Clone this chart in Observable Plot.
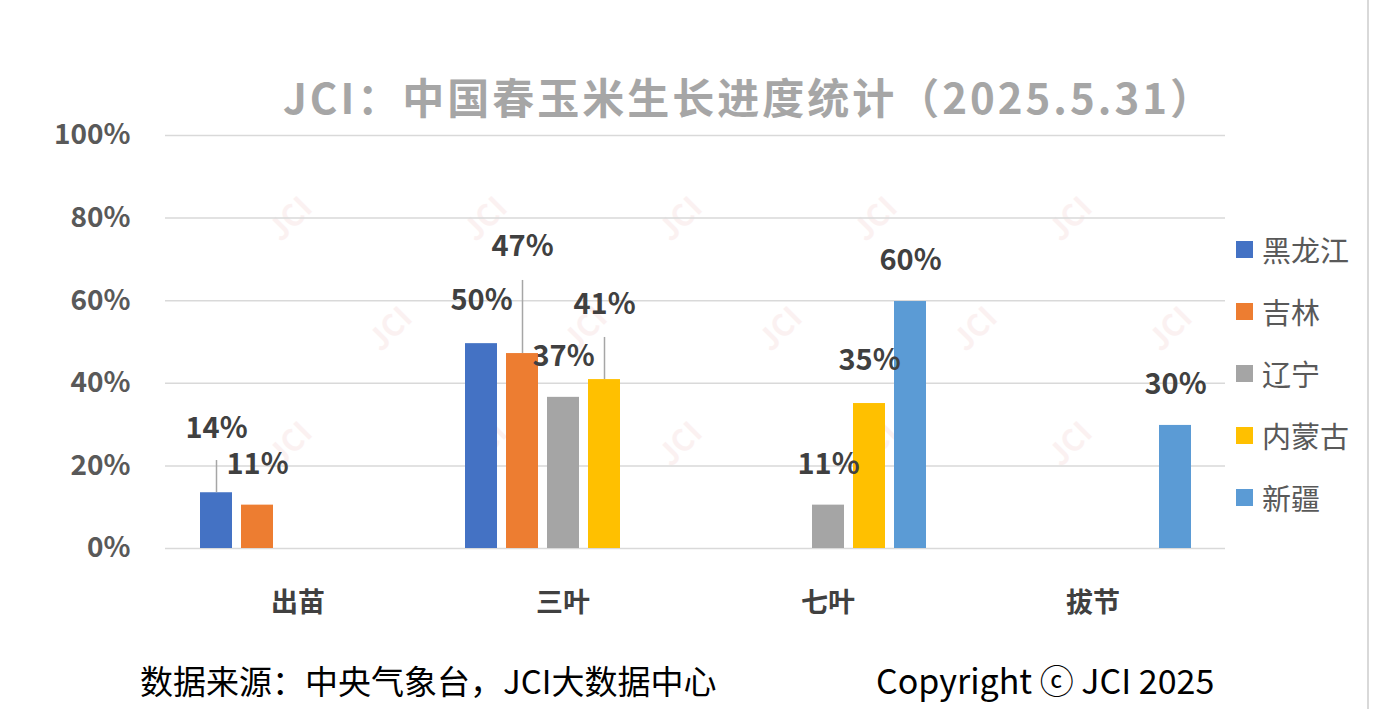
<!DOCTYPE html>
<html>
<head>
<meta charset="utf-8">
<script src="https://cdn.jsdelivr.net/npm/d3@7"></script>
<script src="https://cdn.jsdelivr.net/npm/@observablehq/plot@0.6"></script>
<style>
  body { margin: 0; background: #fff; }
  #wrap { position: relative; width: 1373px; height: 709px; overflow: hidden; font-family: "Noto Sans CJK SC", "Noto Sans", sans-serif; }
  #chart { position: absolute; left: 0; top: 0; }
  #title { position: absolute; left: 12px; width: 1474px; top: 68px; text-align: center; font-size: 42px; letter-spacing: 3px; font-weight: bold; color: #a6a6a6; line-height: 56px; white-space: nowrap; }
  #legend { position: absolute; left: 1236px; top: 0; }
  .lg { position: absolute; left: 0; display: flex; align-items: center; white-space: nowrap; font-size: 29px; color: #595959; }
  .sw { width: 17px; height: 17px; margin-right: 9px; }
  .foot { position: absolute; top: 656px; color: #000; white-space: nowrap; line-height: 48px; }
  #border { position: absolute; left: 1367px; top: 0; width: 2px; height: 709px; background: #d9d9d9; }
  .wm { position: absolute; font-size: 30px; font-weight: bold; color: #f6dede; transform: rotate(-45deg); opacity: 0.4; white-space: nowrap; }
</style>
</head>
<body>
<div id="wrap">
  <div id="chart"></div>
  <div id="title"></div>
  <div id="legend"></div>
  <div class="foot" id="src" style="left:140px; font-size:33px"></div>
  <div class="foot" id="copy" style="left:876px; font-size:34px"></div>
  <div id="border"></div>
</div>
<script>
// ---- data ----
const title = "JCI：中国春玉米生长进度统计（2025.5.31）";
const categories = ["出苗", "三叶", "七叶", "拔节"];
const series = ["黑龙江", "吉林", "辽宁", "内蒙古", "新疆"];
const colors = ["#4472C4", "#ED7D31", "#A5A5A5", "#FFC000", "#5B9BD5"];
const values = {
  "黑龙江": [13.5, 49.6, null, null],
  "吉林":   [10.5, 47.2, null, null],
  "辽宁":   [null, 36.6, 10.5, null],
  "内蒙古": [null, 40.9, 35.1, null],
  "新疆":   [null, null, 59.8, 29.8]
};
const yTicks = [0, 20, 40, 60, 80, 100];
const sourceText = "数据来源：中央气象台，JCI大数据中心";
const copyrightText = "Copyright ⓒ JCI 2025";

// ---- label placement (annotation layout, in axis units) ----
const labelAt = {
  "出苗|黑龙江": 29.1, "出苗|吉林": 20.3,
  "三叶|黑龙江": 60.0, "三叶|吉林": 73.1, "三叶|辽宁": 46.5, "三叶|内蒙古": 59.1,
  "七叶|辽宁": 20.3, "七叶|内蒙古": 45.5, "七叶|新疆": 69.7,
  "拔节|新疆": 39.7
};
const leaderTo = { "出苗|黑龙江": 21.3, "三叶|吉林": 64.9, "三叶|内蒙古": 51.1 };

const rows = [];
series.forEach(s => values[s].forEach((v, i) => {
  if (v != null) {
    const key = categories[i] + "|" + s;
    rows.push({ cat: categories[i], series: s, value: v, labelY: labelAt[key], leader: leaderTo[key] });
  }
}));
const leaders = rows.filter(d => d.leader != null);

const chart = Plot.plot({
  width: 1373, height: 709,
  marginLeft: 165, marginRight: 148, marginTop: 135, marginBottom: 161,
  style: { fontFamily: '"Noto Sans CJK SC", "Noto Sans", sans-serif', background: "transparent", overflow: "visible" },
  fx: { domain: categories, padding: 0, label: null },
  x: { domain: series, paddingInner: 0.22, paddingOuter: 0.84, axis: null },
  y: { domain: [0, 100], label: null },
  color: { domain: series, range: colors },
  marks: [
    Plot.gridY(yTicks, { stroke: "#d9d9d9", strokeOpacity: 1, strokeWidth: 1.5 }),
    Plot.axisY(yTicks, { tickFormat: d => d + "%", tickSize: 0, tickPadding: 35, fontSize: 28, fontWeight: "bold", color: "#595959", label: null }),
    Plot.axisFx({ anchor: "bottom", tickSize: 0, tickPadding: 44, fontSize: 27, fontWeight: "bold", color: "#404040", label: null }),
    Plot.barY(rows, { fx: "cat", x: "series", y: "value", fill: "series" }),
    Plot.ruleX(leaders, { fx: "cat", x: "series", y1: "value", y2: "leader", stroke: "#a6a6a6", strokeWidth: 1.5 }),
    Plot.text(rows, { fx: "cat", x: "series", y: "labelY", text: d => Math.round(d.value) + "%", fontSize: 29, fontWeight: "bold", fill: "#404040" })
  ]
});
document.getElementById("chart").appendChild(chart);

document.getElementById("title").textContent = title;
document.getElementById("src").textContent = sourceText;
document.getElementById("copy").textContent = copyrightText;

const legend = document.getElementById("legend");
series.forEach((s, i) => {
  const item = document.createElement("div");
  item.className = "lg";
  item.style.top = (228 + i * 62) + "px";
  const sw = document.createElement("div");
  sw.className = "sw";
  sw.style.background = colors[i];
  const t = document.createElement("span");
  t.textContent = s;
  item.appendChild(sw); item.appendChild(t);
  legend.appendChild(item);
});

// faint watermarks
const wrap = document.getElementById("wrap");
const wmRows = [[215, 290], [325, 390], [440, 290]];
wmRows.forEach(([y, x0]) => {
  for (let k = 0; k < 5; k++) {
    const w = document.createElement("div");
    w.className = "wm";
    w.textContent = "JCI";
    w.style.left = (x0 + k * 195 - 25) + "px";
    w.style.top = (y - 20) + "px";
    wrap.insertBefore(w, wrap.firstChild);
  }
});
</script>
</body>
</html>
